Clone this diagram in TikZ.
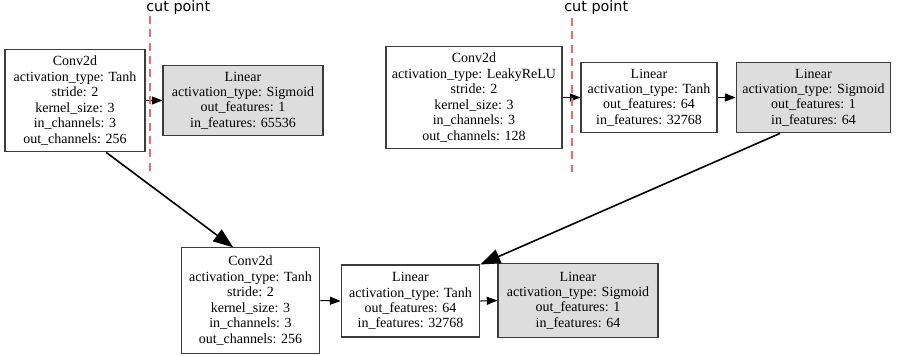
\documentclass[tikz,border=0pt]{standalone}
\usepackage{fontspec}
\setmainfont{Liberation Serif}
\newfontfamily\cutfont{DejaVu Sans}
\usetikzlibrary{arrows.meta,positioning,calc}

\definecolor{cutred}{RGB}{246,104,104}
\definecolor{boxgray}{RGB}{221,221,221}
\definecolor{edgegray}{RGB}{60,60,60}

\tikzset{
  layer/.style={draw=edgegray,line width=0.8pt,rectangle,align=center,inner sep=2pt,
    font=\fontsize{10.5}{11.6}\selectfont},
  outlayer/.style={layer,fill=boxgray},
  flow/.style={-{Triangle[length=8pt,width=6pt]},line width=0.8pt},
  bigflow/.style={-{Triangle[length=15pt,width=11pt]},line width=1.2pt},
  cutline/.style={cutred,line width=2.2pt,dash pattern=on 6pt off 4pt},
  cutlabel/.style={font=\cutfont\fontsize{10.8}{12}\selectfont,inner sep=0pt}
}

\begin{document}
\begin{tikzpicture}[x=0.75pt,y=-0.75pt]
      \useasboundingbox (0,0) rectangle (906,355);

      % first model
      \node[layer,minimum width=105pt,minimum height=77pt] (a) at (75,100.5)
        {Conv2d\\activation\_type: Tanh\\stride: 2\\kernel\_size: 3\\in\_channels: 3\\out\_channels: 256};
      \node[outlayer,minimum width=120pt,minimum height=53pt] (b) at (243,100.5)
        {Linear\\activation\_type: Sigmoid\\out\_features: 1\\in\_features: 65536};
      \draw[flow] (a.east)--(b.west);

      % second model
      \node[layer,minimum width=132pt,minimum height=77pt] (c) at (474,97.5)
        {Conv2d\\activation\_type: LeakyReLU\\stride: 2\\kernel\_size: 3\\in\_channels: 3\\out\_channels: 128};
      \node[layer,minimum width=102pt,minimum height=53pt] (d) at (649,97.5)
        {Linear\\activation\_type: Tanh\\out\_features: 64\\in\_features: 32768};
      \node[outlayer,minimum width=116pt,minimum height=53pt] (e) at (813.5,97.5)
        {Linear\\activation\_type: Sigmoid\\out\_features: 1\\in\_features: 64};
      \draw[flow] (c.east)--(d.west);
      \draw[flow] (d.east)--(e.west);

      % combined model
      \node[layer,minimum width=104pt,minimum height=79pt] (g) at (250.5,300.5)
        {Conv2d\\activation\_type: Tanh\\stride: 2\\kernel\_size: 3\\in\_channels: 3\\out\_channels: 256};
      \node[layer,minimum width=104pt,minimum height=54pt] (f) at (410.5,301)
        {Linear\\activation\_type: Tanh\\out\_features: 64\\in\_features: 32768};
      \node[outlayer,minimum width=120pt,minimum height=55pt] (h) at (578,300.5)
        {Linear\\activation\_type: Sigmoid\\out\_features: 1\\in\_features: 64};
      \draw[flow] (g.east)--(f.west);
      \draw[flow] (f.east)--(h.west);

      \draw[bigflow] (a.-59)--(g.108);
      \draw[bigflow] (e.-133)--(f.north east);

      % cut points
      \coordinate (cut1top) at (150,16);
      \coordinate (cut1bot) at (150,172);
      \coordinate (cut2top) at (572,18);
      \coordinate (cut2bot) at (572,172);
      \draw[cutline] (cut1top)--(cut1bot);
      \draw[cutline] (cut2top)--(cut2bot);
      \node[cutlabel,anchor=south west] (cp1) at ($(cut1top)+(-4,-1)$) {cut point};
      \node[cutlabel,anchor=south west] (cp2) at ($(cut2top)+(-8,-3)$) {cut point};

    \end{tikzpicture}
\end{document}
